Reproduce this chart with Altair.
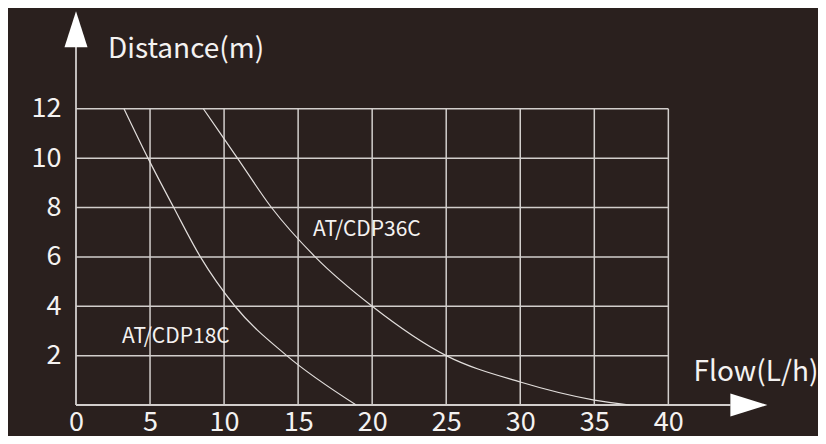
import altair as alt
import pandas as pd

# ---- data ----
x_ticks = [0, 5, 10, 15, 20, 25, 30, 35, 40]
y_ticks = [2, 4, 6, 8, 10, 12]
grid_x = [5, 10, 15, 20, 25, 30, 35, 40]
grid_y = [2, 4, 6, 8, 10, 12]

flow_18 = [3.24, 4.86, 6.6, 8.4, 10.74, 14.23, 18.92]
dist_18 = [12, 10, 8, 6, 4, 2, 0]
flow_36 = [8.6, 10.9, 13.2, 16.15, 20.0, 25.0, 30.0, 35.0, 37.4]
dist_36 = [12, 10, 8, 6, 4, 2, 0.93, 0.2, 0]

series_names = ["AT/CDP18C", "AT/CDP36C"]
label_x = [3.1, 16.0]
label_y = [2.75, 7.1]

# ---- styling ----
BG = "#2a201e"
GRID = "#d2cecc"
CURVE = "#e2dedc"
TXT = "#f4f2f1"
FONT = "Noto Sans CJK SC"

xs = alt.Scale(domain=[0, 47], nice=False, zero=False)
ys = alt.Scale(domain=[0, 16], nice=False, zero=False)

curves = pd.DataFrame(
    [{"flow": f, "dist": d, "series": series_names[0], "order": i} for i, (f, d) in enumerate(zip(flow_18, dist_18))]
    + [{"flow": f, "dist": d, "series": series_names[1], "order": i} for i, (f, d) in enumerate(zip(flow_36, dist_36))]
)

hgrid = pd.DataFrame({"y": grid_y, "x0": [0] * len(grid_y), "x1": [40] * len(grid_y)})
vgrid = pd.DataFrame({"x": grid_x, "y0": [0] * len(grid_x), "y1": [12] * len(grid_x)})

axis_lines = pd.DataFrame({"x0": [0, 0], "x1": [0, 44.2], "y0": [0, 0], "y1": [14.5, 0]})
arrows = pd.DataFrame({
    "x": [0, 45.44],
    "y": [15.22, 0],
    "shape": ["M0,-1L-0.64,1L0.64,1Z", "M1,0L-1,-0.62L-1,0.62Z"],
    "size": [1296, 1369],
})

labels = pd.DataFrame({"x": label_x, "y": label_y, "t": series_names})
titles = pd.DataFrame({"x": [2.16, 41.7], "y": [14.37, 1.3], "t": ["Distance(m)", "Flow(L/h)"]})

xaxis = alt.Axis(values=x_ticks, domain=False, ticks=False, grid=False, tickSize=0,
                 labelFontSize=27, labelColor=TXT, labelFont=FONT, labelPadding=4,
                 labelBaseline="top",
                 labelFlush=False, labelOverlap=False, title=None)
yaxis = alt.Axis(values=y_ticks, domain=False, ticks=False, grid=False, tickSize=0,
                 labelFontSize=27, labelColor=TXT, labelFont=FONT, labelPadding=15,
                 labelFlush=False, labelOverlap=False, title=None)

base_axes = alt.Chart(pd.DataFrame({"x": x_ticks[:6], "y": y_ticks})).mark_point(opacity=0).encode(
    x=alt.X("x:Q", scale=xs, axis=xaxis),
    y=alt.Y("y:Q", scale=ys, axis=yaxis),
)

h = alt.Chart(hgrid).mark_rule(color=GRID, strokeWidth=1.5).encode(
    x=alt.X("x0:Q", scale=xs), x2="x1:Q", y=alt.Y("y:Q", scale=ys))
v = alt.Chart(vgrid).mark_rule(color=GRID, strokeWidth=1.5).encode(
    x=alt.X("x:Q", scale=xs), y=alt.Y("y0:Q", scale=ys), y2="y1:Q")
ax = alt.Chart(axis_lines).mark_rule(color=GRID, strokeWidth=1.8).encode(
    x=alt.X("x0:Q", scale=xs), x2="x1:Q", y=alt.Y("y0:Q", scale=ys), y2="y1:Q")

arr = alt.Chart(arrows).mark_point(filled=True, color="#ffffff", opacity=1, strokeWidth=0).encode(
    x=alt.X("x:Q", scale=xs), y=alt.Y("y:Q", scale=ys),
    shape=alt.Shape("shape:N", scale=None), size=alt.Size("size:Q", scale=None))

lines = alt.Chart(curves).mark_line(color=CURVE, strokeWidth=1.2, interpolate="monotone").encode(
    x=alt.X("flow:Q", scale=xs), y=alt.Y("dist:Q", scale=ys),
    detail="series:N", order="order:Q")

lab = alt.Chart(labels).mark_text(color=TXT, font=FONT, fontSize=21, align="left", baseline="middle").encode(
    x=alt.X("x:Q", scale=xs), y=alt.Y("y:Q", scale=ys), text="t:N")
tit = alt.Chart(titles).mark_text(color=TXT, font=FONT, fontSize=28, align="left", baseline="middle").encode(
    x=alt.X("x:Q", scale=xs), y=alt.Y("y:Q", scale=ys), text="t:N")

chart = alt.layer(base_axes, h, v, ax, lines, arr, lab, tit).properties(
    width=696, height=395,
    autosize=alt.AutoSizeParams(type="none"),
    padding={"left": 68, "top": 2, "right": 46, "bottom": 31},
).configure(background=BG).configure_view(stroke=None)

chart.save("out.html", embed_options={"renderer": "svg", "actions": False})
